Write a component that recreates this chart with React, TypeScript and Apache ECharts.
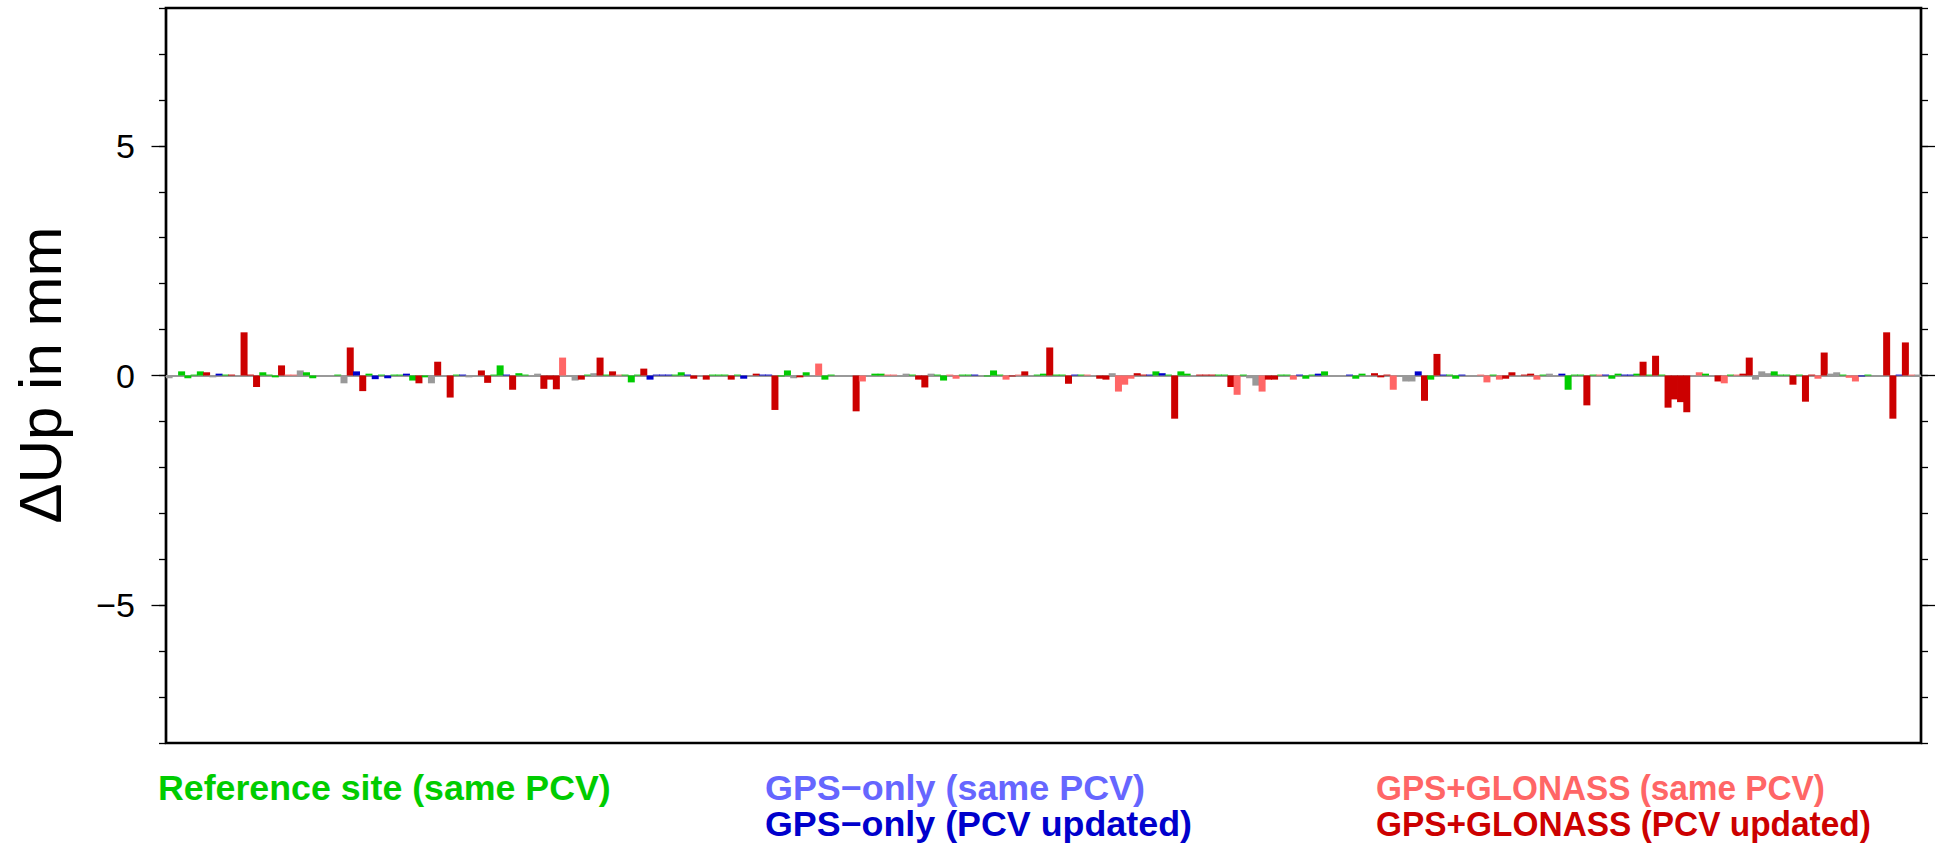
import React, { useEffect, useRef } from "react";
import * as echarts from "echarts";

// Series colour codes: K gray, G reference (green), L GPS-only same PCV, B GPS-only PCV updated,
// P GPS+GLONASS same PCV, R GPS+GLONASS PCV updated
const groupColors: Record<string, string> = {
  K: "#999999",
  G: "#00cc00",
  L: "#6666ff",
  B: "#0000cc",
  P: "#ff6666",
  R: "#cc0000",
};

const slotGroups: string[] = (
  "K K G G G G R K B G R K R R R G G G R P P K G G K K K G K R B R G B G B " +
  "G G B G R G K R K R G B K K R R G G B R G G K K R R R P K K R G K R G R " +
  "P G G G R B B B B G G B R K R G G G R G B K R B B R G G K R G K P G G K " +
  "K K R P K G G P P K K G R R K G G P P G G B K G G G P R P R K G G R G G " +
  "R B G P K R R K P P P R R B G B G R G G K R R R G G R P G K K P R R G G " +
  "P B G G B G K K K B G G K R R R P K K K B R G R B G G B K K P P G P R R " +
  "K R R P G K K B G G G R G P B G G B B G R G R G R R R R K P G K R P G P " +
  "R R K K K G G G R G R R P R K K G P P B G K K R R B R P K"
).split(" ");

const slotValues: number[] = [
  -0.06, 0, 0.09, -0.06, 0.02, 0.09, 0.07, -0.04, 0.04, 0.02, 0.02, 0,
  0.94, 0.02, -0.25, 0.07, 0.02, -0.04, 0.22, 0.02, 0.02, 0.11, 0.07, -0.06,
  0, 0, 0, 0.02, -0.17, 0.61, 0.09, -0.34, 0.04, -0.08, 0.02, -0.06,
  0.02, 0.02, 0.04, -0.11, -0.17, -0.04, -0.17, 0.3, 0, -0.48, 0.02, 0.02,
  -0.04, 0, 0.11, -0.16, 0.02, 0.22, 0.02, -0.31, 0.05, 0.02, 0, 0.04,
  -0.29, -0.09, -0.3, 0.39, 0, -0.11, -0.09, 0.02, 0.05, 0.39, 0.02, 0.09,
  0.02, 0.02, -0.15, 0.02, 0.15, -0.09, 0.02, 0.02, 0.02, 0.02, 0.07, 0.02,
  -0.07, 0, -0.09, 0.02, 0.02, 0.02, -0.09, 0.02, -0.07, 0, 0.04, 0.02,
  0.02, -0.75, -0.02, 0.11, -0.06, -0.04, 0.07, 0, 0.26, -0.09, 0.02, 0,
  0, 0, -0.78, -0.13, 0, 0.04, 0.04, 0.02, 0.02, 0, 0.04, 0.02,
  -0.09, -0.26, 0.04, 0.02, -0.11, 0.02, -0.07, 0.02, 0.02, 0.02, 0, -0.02,
  0.11, 0.02, -0.09, -0.02, 0.02, 0.09, 0, 0.02, 0.04, 0.61, 0.02, 0.02,
  -0.18, 0.02, 0.02, 0.02, 0, -0.07, -0.09, 0.05, -0.35, -0.2, -0.07, 0.05,
  0.02, 0.02, 0.09, 0.05, 0.02, -0.94, 0.09, 0.04, 0, 0.02, 0.02, 0.02,
  0.02, 0.02, -0.25, -0.42, 0.02, -0.06, -0.22, -0.35, -0.09, -0.09, 0.02, 0.02,
  -0.09, 0.02, -0.07, 0.02, 0.04, 0.09, 0, 0, 0, 0.02, -0.07, 0.04,
  0, 0.05, -0.04, 0.02, -0.31, 0, -0.13, -0.13, 0.09, -0.55, -0.09, 0.47,
  0.02, 0.02, -0.07, 0.02, 0, 0, 0.02, -0.15, 0.02, -0.09, -0.07, 0.07,
  0, 0.02, 0.04, -0.09, 0.02, 0.04, 0, 0.04, -0.31, 0.02, 0.02, -0.65,
  0.02, 0.02, 0.02, -0.07, 0.04, 0.02, 0.02, 0.04, 0.3, 0.02, 0.43, 0.02,
  -0.7, -0.52, -0.58, -0.8, 0, 0.07, 0.04, 0, -0.13, -0.17, 0.02, 0.02,
  0.04, 0.39, -0.09, 0.09, 0.05, 0.09, 0.02, 0.02, -0.2, 0.02, -0.57, 0.02,
  -0.07, 0.5, 0.04, 0.07, 0.02, -0.05, -0.13, -0.02, 0.02, 0, 0, 0.94,
  -0.94, 0.02, 0.72, 0.02, 0.02,
];

const categories: string[] = slotValues.map((_, i) => String(i + 1));

const yMajorTicks: number[] = [-5, 0, 5];

const legendLabels: string[] = [
  "Reference site (same PCV)",
  "GPS\u2212only (same PCV)",
  "GPS\u2212only (PCV updated)",
  "GPS+GLONASS (same PCV)",
  "GPS+GLONASS (PCV updated)",
];
const legendGroups: string[] = ["G", "L", "B", "P", "R"];

const FONT = '"Liberation Sans", Arial, Helvetica, sans-serif';

export default function App() {
  const ref = useRef<HTMLDivElement>(null);

  useEffect(() => {
    if (!ref.current) return;
    const chart = echarts.init(ref.current, undefined, { renderer: "svg" });

    const data = slotValues.map((v, i) => ({
      value: v,
      itemStyle: { color: groupColors[slotGroups[i]] || "#999999" },
    }));

    const tickStyle = { color: "#000", width: 1.3 };
    const fmt = (v: number) => (v < 0 ? "\u2212" + Math.abs(v) : String(v));

    // layout of the legend texts (position and horizontal stretch)
    const legendLayout = [
      { x: 158, y: 788, sx: 1.021 },
      { x: 765, y: 788, sx: 1.026 },
      { x: 765, y: 824, sx: 1.024 },
      { x: 1376, y: 788, sx: 0.952 },
      { x: 1376, y: 824, sx: 0.955 },
    ];

    const baseY = {
      type: "value" as const,
      min: -8,
      max: 8,
      axisLine: { show: false },
      splitLine: { show: false },
    };

    chart.setOption({
      animation: false,
      grid: {
        left: 166,
        right: 14,
        top: 8,
        bottom: 103,
        show: true,
        borderColor: "#000",
        borderWidth: 2.7,
        backgroundColor: "transparent",
      },
      xAxis: {
        type: "category",
        data: categories,
        boundaryGap: true,
        axisLine: { show: true, onZero: true, lineStyle: { color: "#999999", width: 2 } },
        axisTick: { show: false },
        axisLabel: { show: false },
        splitLine: { show: false },
      },
      yAxis: [
        {
          ...baseY,
          position: "left",
          interval: 1,
          axisTick: { show: true, length: 7, lineStyle: tickStyle },
          axisLabel: { show: false },
        },
        {
          ...baseY,
          position: "left",
          interval: 1,
          axisTick: { show: true, length: 14.5, customValues: yMajorTicks, lineStyle: tickStyle },
          axisLabel: {
            show: true,
            customValues: yMajorTicks,
            formatter: fmt,
            margin: 31,
            fontSize: 34,
            fontFamily: FONT,
            color: "#000",
          },
        },
        {
          ...baseY,
          position: "right",
          interval: 1,
          axisTick: { show: true, length: 7, lineStyle: tickStyle },
          axisLabel: { show: false },
        },
        {
          ...baseY,
          position: "right",
          interval: 1,
          axisTick: { show: true, length: 14.5, customValues: yMajorTicks, lineStyle: tickStyle },
          axisLabel: { show: false },
        },
      ],
      series: [
        {
          type: "bar",
          yAxisIndex: 0,
          data,
          barWidth: 7,
          silent: true,
        },
      ],
      graphic: [
        {
          type: "text",
          x: 40,
          y: 375,
          rotation: Math.PI / 2,
          style: {
            text: "\u0394Up in mm",
            fill: "#000",
            font: `60px ${FONT}`,
            align: "center",
            verticalAlign: "middle",
          },
        },
        ...legendLabels.map((label, i) => ({
          type: "text",
          x: legendLayout[i].x,
          y: legendLayout[i].y,
          scaleX: legendLayout[i].sx,
          style: {
            text: label,
            fill: groupColors[legendGroups[i]],
            font: `bold 35px ${FONT}`,
            align: "left",
            verticalAlign: "middle",
          },
        })),
      ],
    });

    return () => chart.dispose();
  }, []);

  return (
    <div
      ref={ref}
      style={{ position: "fixed", left: 0, top: 0, width: 1935, height: 846, background: "#fff" }}
    />
  );
}
